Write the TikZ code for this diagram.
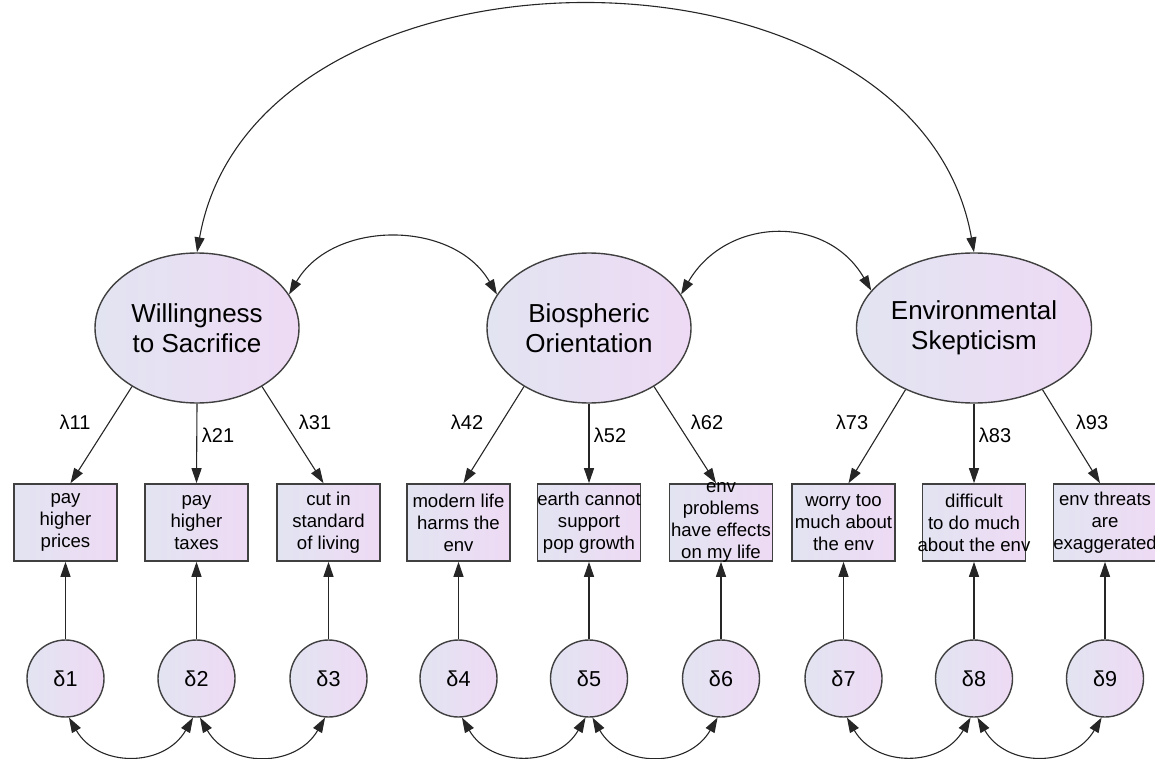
\documentclass[tikz,border=0pt]{standalone}
\usepackage{fontspec}
\setmainfont{Liberation Sans}
\usetikzlibrary{arrows.meta,shapes.geometric}
\definecolor{lavL}{RGB}{226,228,242}
\definecolor{lavR}{RGB}{238,218,244}
\definecolor{rim}{RGB}{64,64,64}
\begin{document}
\begin{tikzpicture}[x=0.5pt,y=0.5pt,
  >={Triangle[length=7.5pt,width=5pt]},
  latent/.style={ellipse,draw=rim,line width=0.7pt,left color=lavL,right color=lavR,
    minimum width=102pt,minimum height=75pt,inner sep=0pt,align=center,
    font=\fontsize{13}{15}\selectfont},
  indic/.style={rectangle,draw=rim,line width=0.8pt,left color=lavL,right color=lavR,
    minimum width=51.5pt,minimum height=38.5pt,inner sep=0pt},
  indtxt/.style={align=center,inner sep=0pt,font=\fontsize{9.3}{11}\selectfont},
  err/.style={circle,draw=rim,line width=0.7pt,left color=lavL,right color=lavR,
    minimum size=38.5pt,inner sep=0pt,font=\fontsize{10.8}{12}\selectfont},
  lam/.style={inner sep=0pt,font=\fontsize{10}{12}\selectfont},
  link/.style={line width=0.55pt,draw=black!85}]
\useasboundingbox (0,0) rectangle (1155,-759);
%latent factors
\node[latent] (W) at (197,-328) {Willingness\\to Sacrifice};
\node[latent] (B) at (589,-328) {Biospheric\\Orientation};
\node[latent] (E) at (974,-328) {Environmental\\Skepticism};
%observed items
\foreach \n/\x/\t in {1/65.5/{pay\\higher\\prices},2/196.5/{pay\\higher\\taxes},
  3/328.5/{cut in\\standard\\of living},4/458.5/{modern life\\harms the\\env},
  5/589/{earth cannot\\support\\pop growth},6/721/{env\\problems\\have effects\\on my life},
  7/843.5/{worry too\\much about\\the env},8/974/{difficult\\to do much\\about the env},
  9/1105/{env threats\\are\\exaggerated}}{
  \node[indic] (x\n) at (\x,-522.5) {};
  \node[indtxt] (t\n) at (x\n.center) {\t};
  \node[err] (d\n) at (\x,-678.5) {δ\n};
  \draw[link,->] (d\n) -- (x\n);
}
%loadings
\foreach \f/\ma/\mb/\mc/\la/\lb/\lc in {W/1/2/3/11/21/31,B/4/5/6/42/52/62,E/7/8/9/73/83/93}{
  \draw[link,->] (\f.222) -- ([xshift=2.5pt]x\ma.north);
  \draw[link,->] (\f.south) -- (x\mb.north);
  \draw[link,->] (\f.318) -- ([xshift=-2.5pt]x\mc.north);
  \node[lam] (l\la) at ([shift={(-122,-94)}]\f.center) {λ\la};
  \node[lam] (l\lb) at ([shift={(21,-107)}]\f.center) {λ\lb};
  \node[lam] (l\lc) at ([shift={(118,-94)}]\f.center) {λ\lc};
}
%error covariances
\foreach \a/\b in {1/2,2/3,4/5,5/6,7/8,8/9}
  \draw[link,<->] (d\a.-85) to[out=-60,in=-120,looseness=1.2] (d\b.-95);
%factor covariances
\draw[link,<->] (W.20) to[out=60,in=120,looseness=1.07] (B.160);
\draw[link,<->] (B.20) to[out=60,in=120,looseness=1.2] (E.160);
\draw[link,<->] (W.north) to[out=80,in=100,looseness=1.1] (E.north);
\end{tikzpicture}
\end{document}
